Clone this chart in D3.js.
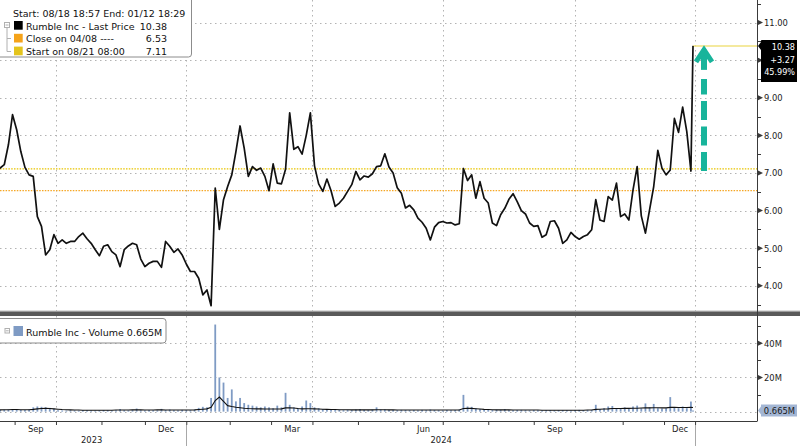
<!DOCTYPE html>
<html><head><meta charset="utf-8">
<script src="https://cdn.jsdelivr.net/npm/d3@7"></script>
<style>
body{margin:0;background:#fff;}
svg{display:block;font-family:"DejaVu Sans",sans-serif;}
</style></head><body>
<svg id="c" width="800" height="446"></svg>
<script>
// ---------- data ----------
const startDate = "2023-08-21";
const endDate = "2024-12-20";
const holidays = ["2023-09-04","2023-11-23","2023-12-25","2024-01-01","2024-01-15","2024-02-19",
  "2024-03-29","2024-05-27","2024-06-19","2024-07-04","2024-09-02","2024-11-28"];
// price sampled every second trading day from 2023-08-21, last value = 2024-12-20
const prices = [
 7.11,7.13,7.22,7.75,8.55,8.15,7.57,7.15,6.95,6.91,
 5.84,5.58,4.82,4.96,5.36,5.13,5.22,5.13,5.18,5.18,
 5.31,5.40,5.25,5.13,4.96,4.80,5.05,5.09,4.91,4.82,
 4.51,4.96,5.06,5.13,5.09,4.71,4.51,4.60,4.65,4.65,
 4.49,5.18,5.05,4.89,4.98,4.82,4.58,4.38,4.38,4.20,
 3.76,3.89,3.47,6.60,5.50,6.29,6.64,6.95,7.57,8.25,
 7.66,6.91,7.17,7.07,7.13,6.91,6.53,7.24,6.73,6.71,
 7.10,8.60,7.63,7.70,7.50,8.00,8.60,7.19,6.71,6.51,
 6.84,6.53,6.11,6.20,6.33,6.51,6.69,7.04,6.82,6.92,
 6.89,6.98,7.17,7.19,7.51,7.16,7.00,6.61,6.46,6.07,
 6.14,6.02,5.80,5.69,5.53,5.22,5.56,5.68,5.71,5.67,
 5.68,5.62,5.65,7.12,6.80,6.95,6.33,6.77,6.33,6.20,
 5.67,5.60,5.89,6.06,6.30,6.45,6.24,6.00,5.91,5.67,
 5.58,5.60,5.29,5.36,5.71,5.73,5.53,5.13,5.22,5.42,
 5.31,5.24,5.31,5.36,5.49,6.29,5.75,5.71,6.37,6.28,
 6.73,5.84,5.91,5.75,6.55,7.17,5.86,5.40,6.02,6.64,
 7.60,7.13,6.95,7.08,8.45,8.08,8.75,8.10,7.05,10.38];
// volume (millions) on the same dates
const volumes = [
 1.0,0.9,1.1,1.2,1.5,1.3,1.0,0.9,1.2,
 2.5,3.0,2.8,2.6,2.2,1.8,
 0.8,0.7,0.6,0.8,0.7,0.6,0.9,0.8,0.7,0.6,0.7,0.9,0.8,0.7,0.8,
 1.5,0.8,0.7,0.9,1.8,0.8,0.7,0.9,0.8,0.7,
 1.6,0.9,1.2,0.8,0.7,1.0,0.9,0.8,1.1,
 2.2,2.8,2.5,8,51,20,17,8,13,6,8,
 5,4,3.5,3,2.5,3,2.5,2,3.5,2.5,
 11,4,2.5,2,3,6.5,5,2.5,2,1.5,
 1.2,1.0,0.9,1.1,0.8,1.0,0.9,1.2,1.5,1.0,
 0.9,1.1,2.5,1.2,1.3,1.0,0.9,0.8,1.0,0.9,
 0.8,0.9,0.7,1.0,0.8,1.2,0.9,0.8,0.7,0.9,0.8,0.9,
 1.2,9.8,3,2.8,2,1.5,
 1.2,1.0,0.9,1.1,1.0,1.5,0.9,0.8,0.9,1.0,
 0.8,0.7,0.9,0.8,0.7,0.8,0.9,0.7,0.8,0.9,
 0.8,0.7,0.9,1.0,0.8,0.9,1.0,
 4,1.5,2,3,3.3,2,2,2.5,1.5,3,
 3.5,2,4.8,2.5,4.5,2,1.8,2,8.5,2.5,
 2,3,2,5.9,0.665];
const volumeAvg = [
 1.0,1.0,1.1,1.1,1.2,1.2,1.1,1.1,1.1,
 1.3,1.6,1.8,1.9,1.8,1.6,1.4,
 1.2,1.1,1.0,0.9,0.9,0.8,0.8,0.8,0.8,0.8,
 0.8,0.8,0.8,0.9,0.9,0.9,0.9,1.0,1.0,1.0,
 0.9,0.9,0.9,1.0,1.0,0.9,0.9,0.9,0.9,0.9,
 0.9,0.9,1.0,
 1.2,1.4,1.6,2.5,6.5,
 8.5,6.0,3.5,3.0,2.6,2.3,
 2.0,1.8,1.7,1.6,1.6,1.5,1.5,1.5,1.5,1.6,
 2.2,2.3,2.1,1.8,1.6,1.7,1.7,1.6,1.5,1.4,
 1.3,1.2,1.2,1.1,1.1,1.1,1.0,1.0,1.0,1.0,
 1.0,1.0,1.1,1.1,1.1,1.0,1.0,0.9,0.9,0.9,
 0.9,0.9,0.9,0.9,0.9,0.9,0.9,0.9,0.9,0.9,0.9,0.9,
 0.9,1.8,2.0,1.9,1.7,1.5,
 1.3,1.2,1.1,1.0,1.0,1.0,1.0,0.9,0.9,0.9,
 0.9,0.9,0.9,0.9,0.8,0.8,0.8,0.8,0.8,0.8,
 0.8,0.8,0.8,0.8,0.8,0.9,0.9,
 1.3,1.4,1.5,1.6,1.8,1.8,1.8,1.9,1.9,2.0,
 2.0,2.1,2.2,2.2,2.3,2.3,2.2,2.2,2.5,2.5,
 2.4,2.4,2.4,2.5,2.4];
const priceTicks = [4,5,6,7,8,9,10,11];
const priceTickLabels = [4,5,6,7,8,9,11];   // 10.00 is hidden behind the last-price tag
const priceMinor = [3.5,4.5,5.5,6.5,7.5,8.5,9.5,10.5,11.5];
const volTicks = [20,40];
const volMinor = [10,30,50];
const closeLevel = 6.53, startLevel = 7.11;
const lastPrice = 10.38, change = "+3.27", changePct = "45.99%", lastVolume = "0.665M";
const monthLabelStarts = ["2023-09-01","2023-12-01","2024-03-01","2024-06-01","2024-09-01","2024-12-01"];
const monthLabels = ["Sep","Dec","Mar","Jun","Sep","Dec"];
const quarterStarts = ["2023-10-01","2024-01-01","2024-04-01","2024-07-01","2024-10-01","2025-01-01"];
const yearStarts = ["2023-01-01","2024-01-01","2025-01-01"];
const yearLabels = ["2023","2024"];

// ---------- calendar ----------
const parse = d3.utcParse("%Y-%m-%d"), fmt = d3.utcFormat("%Y-%m-%d");
const hol = new Set(holidays);
const days = d3.utcDay.range(parse(startDate), d3.utcDay.offset(parse(endDate),1))
  .filter(d => d.getUTCDay()!==0 && d.getUTCDay()!==6 && !hol.has(fmt(d)));
const tIndex = s => d3.bisectLeft(days, parse(s));
const sampleIdx = d3.range(0, days.length, 2);
if (sampleIdx[sampleIdx.length-1] !== days.length-1) sampleIdx.push(days.length-1);
const n = Math.min(sampleIdx.length, prices.length);
const priceData = d3.range(n).map(i => ({i: sampleIdx[i], v: prices[i], vol: volumes[i], avg: volumeAvg[i]}));

// ---------- layout ----------
const axisX = 757, pTop = 0, pBot = 311, vTop = 316, vBot = 421;
const FONT = "DejaVu Sans", AXFONT = "DejaVu Sans Condensed, DejaVu Sans, sans-serif";
const x = d3.scaleLinear().domain([0, days.length-1]).range([-4, 693]);
const yP = d3.scaleLinear().domain([3.33, 11.6]).range([pBot, pTop]);
const yV = d3.scaleLinear().domain([-5.5, 56]).range([vBot, vTop]);

const svg = d3.select("#c");
const defs = svg.append("defs");
defs.append("clipPath").attr("id","cp").append("rect").attr("x",0).attr("y",pTop).attr("width",axisX).attr("height",pBot-pTop);
defs.append("clipPath").attr("id","cv").append("rect").attr("x",0).attr("y",vTop).attr("width",axisX).attr("height",vBot-vTop);

const gridStyle = s => s.attr("stroke","#b3b3b3").attr("stroke-width",1).attr("stroke-dasharray","1.5,3.5");

// price grid
svg.append("g").selectAll("line").data(priceTicks).join("line")
  .attr("x1",0).attr("x2",axisX).attr("y1",d=>Math.round(yP(d))+0.5).attr("y2",d=>Math.round(yP(d))+0.5).call(gridStyle);
// volume grid
svg.append("g").selectAll("line").data([0].concat(volTicks)).join("line")
  .attr("x1",0).attr("x2",axisX).attr("y1",d=>Math.round(yV(d))+0.5).attr("y2",d=>Math.round(yV(d))+0.5).call(gridStyle);
// vertical quarter grid
const qx = quarterStarts.map(s => Math.round(x(tIndex(s)))+0.5);
svg.append("g").selectAll("line").data(qx).join("line")
  .attr("x1",d=>d).attr("x2",d=>d).attr("y1",pTop).attr("y2",pBot).call(gridStyle);
svg.append("g").selectAll("line").data(qx).join("line")
  .attr("x1",d=>d).attr("x2",d=>d).attr("y1",vTop).attr("y2",vBot).call(gridStyle);

// level lines
svg.append("line").attr("x1",0).attr("x2",axisX).attr("y1",yP(closeLevel)).attr("y2",yP(closeLevel))
  .attr("stroke","#f5a623").attr("stroke-width",1.3).attr("stroke-dasharray","1.5,1.3");
svg.append("line").attr("x1",0).attr("x2",axisX).attr("y1",yP(startLevel)).attr("y2",yP(startLevel))
  .attr("stroke","#e8c400").attr("stroke-width",1.3).attr("stroke-dasharray","1.5,1.3");

// last price line
const last = priceData[priceData.length-1], prev = priceData[priceData.length-2];
svg.append("line").attr("x1",x(last.i)).attr("x2",axisX).attr("y1",yP(last.v)).attr("y2",yP(last.v))
  .attr("stroke","#f1e27e").attr("stroke-width",1.5);

// price line
svg.append("path").datum(priceData).attr("clip-path","url(#cp)")
  .attr("fill","none").attr("stroke","#111").attr("stroke-width",1.7).attr("stroke-linejoin","round")
  .attr("d", d3.line().x(d=>x(d.i)).y(d=>yP(d.v)));

// teal arrow
const ax = x(last.i) + 11, yTopA = yP(last.v), yBotA = yP(prev.v);
const teal = "#18b49b";
svg.append("line").attr("x1",ax).attr("x2",ax).attr("y1",yBotA).attr("y2",yTopA+33)
  .attr("stroke",teal).attr("stroke-width",6).attr("stroke-dasharray","19,6.5");
svg.append("line").attr("x1",ax).attr("x2",ax).attr("y1",yTopA+4).attr("y2",yTopA+24)
  .attr("stroke",teal).attr("stroke-width",6);
svg.append("path").attr("d",`M${ax-8},${yTopA+16}L${ax},${yTopA+4}L${ax+8},${yTopA+16}`)
  .attr("fill","none").attr("stroke",teal).attr("stroke-width",5).attr("stroke-linejoin","miter");

// volume bars
svg.append("g").attr("clip-path","url(#cv)").selectAll("rect").data(priceData).join("rect")
  .attr("x",d=>x(d.i)-0.9).attr("width",1.8)
  .attr("y",d=>yV(d.vol)).attr("height",d=>Math.max(0.5,yV(0)-yV(d.vol)))
  .attr("fill","#7f9bc4");
svg.append("path").datum(priceData).attr("clip-path","url(#cv)")
  .attr("fill","none").attr("stroke","#111").attr("stroke-width",1.1)
  .attr("d", d3.line().x(d=>x(d.i)).y(d=>yV(d.avg)));

// panel separator
svg.append("rect").attr("x",0).attr("y",310.5).attr("width",800).attr("height",1).attr("fill","#bdbdbd");
svg.append("rect").attr("x",0).attr("y",311.5).attr("width",800).attr("height",4.5).attr("fill","#5a5a5a");

// right axes
const axisColor = "#3a3a3a";
svg.append("line").attr("x1",axisX+0.5).attr("x2",axisX+0.5).attr("y1",0).attr("y2",vBot).attr("stroke",axisColor);
const pAxis = d3.axisRight(yP).tickValues(priceTickLabels).tickSize(0).tickPadding(7).tickFormat(d3.format(".2f"));
const gpa = svg.append("g").attr("transform",`translate(${axisX},0)`).call(pAxis);
gpa.select(".domain").remove();
gpa.selectAll("text").attr("font-size",9.3).attr("fill","#222").attr("font-family",AXFONT);
const vAxis = d3.axisRight(yV).tickValues(volTicks).tickSize(0).tickPadding(7).tickFormat(d=>d+"M");
const gva = svg.append("g").attr("transform",`translate(${axisX},0)`).call(vAxis);
gva.select(".domain").remove();
gva.selectAll("text").attr("font-size",9.3).attr("fill","#222").attr("font-family",AXFONT);
// tick markers
const tri = y => `M${axisX+1},${y-2.5}L${axisX+6},${y}L${axisX+1},${y+2.5}Z`;
svg.append("g").selectAll("path").data(priceTicks).join("path").attr("d",d=>tri(yP(d))).attr("fill",axisColor);
svg.append("g").selectAll("path").data(volTicks).join("path").attr("d",d=>tri(yV(d))).attr("fill",axisColor);
svg.append("g").selectAll("line").data(priceMinor).join("line")
  .attr("x1",axisX).attr("x2",axisX+4).attr("y1",d=>Math.round(yP(d))+0.5).attr("y2",d=>Math.round(yP(d))+0.5).attr("stroke",axisColor);
svg.append("g").selectAll("line").data(volMinor).join("line")
  .attr("x1",axisX).attr("x2",axisX+4).attr("y1",d=>Math.round(yV(d))+0.5).attr("y2",d=>Math.round(yV(d))+0.5).attr("stroke",axisColor);

// last price label box
const ly = yP(last.v);
svg.append("path").attr("d",`M${axisX+1},${ly}L${axisX+4},${ly-4}L${axisX+4},${ly-5.5}Q${axisX+4},${ly-6} ${axisX+5},${ly-6}L797,${ly-6}L797,${ly+36}L${axisX+4},${ly+36}L${axisX+4},${ly+4}Z`)
  .attr("fill","#000");
svg.append("g").selectAll("text").data([lastPrice.toFixed(2), change, changePct]).join("text")
  .attr("x",795).attr("y",(d,i)=>ly+4+i*12.8).attr("text-anchor","end").attr("font-family",AXFONT)
  .attr("font-size",9).attr("fill","#fff").text(d=>d);
// last volume label
const vly = yV(+lastVolume.replace("M",""));
svg.append("path").attr("d",`M${axisX+1},${vly}L${axisX+4},${vly-4}L${axisX+4},${vly-6}L797,${vly-6}L797,${vly+6}L${axisX+4},${vly+6}L${axisX+4},${vly+4}Z`)
  .attr("fill","#a3b6d4");
svg.append("text").attr("x",795).attr("y",vly+3.5).attr("text-anchor","end").attr("font-family",AXFONT)
  .attr("font-size",9.3).attr("fill","#1a1a1a").text(lastVolume);

// bottom axis
svg.append("line").attr("x1",0).attr("x2",axisX+0.5).attr("y1",vBot+0.5).attr("y2",vBot+0.5).attr("stroke",axisColor);
const monthStarts = d3.utcMonth.range(parse("2023-09-01"), parse("2025-01-02")).map(fmt);
const mAxis = d3.axisBottom(x).tickValues(monthStarts.map(tIndex)).tickSize(4).tickFormat("");
const gma = svg.append("g").attr("transform",`translate(0,${vBot})`).call(mAxis);
gma.select(".domain").remove();
gma.selectAll("line").attr("stroke",axisColor);
const nextMonth = s => fmt(d3.utcMonth.offset(parse(s),1));
const labelAxis = d3.axisBottom(x)
  .tickValues(monthLabelStarts.map(s => (tIndex(s)+tIndex(nextMonth(s)))/2))
  .tickSize(0).tickPadding(4).tickFormat((d,i)=>monthLabels[i]);
const gla = svg.append("g").attr("transform",`translate(0,${vBot})`).call(labelAxis);
gla.select(".domain").remove();
gla.selectAll("text").attr("font-size",9.3).attr("fill","#222").attr("font-family",AXFONT);
// year separators and labels
svg.append("g").selectAll("line").data(yearStarts.slice(1)).join("line")
  .attr("x1",d=>Math.round(x(tIndex(d)))+0.5).attr("x2",d=>Math.round(x(tIndex(d)))+0.5)
  .attr("y1",vBot+4).attr("y2",446).attr("stroke","#a8a8a8");
const yearAxis = d3.axisBottom(x)
  .tickValues(yearLabels.map((s,i)=>(tIndex(yearStarts[i])+tIndex(yearStarts[i+1]))/2))
  .tickSize(0).tickPadding(15).tickFormat((d,i)=>yearLabels[i]);
const gya = svg.append("g").attr("transform",`translate(0,${vBot})`).call(yearAxis);
gya.select(".domain").remove();
gya.selectAll("text").attr("font-size",9.3).attr("fill","#222").attr("font-family",AXFONT);

// ---------- legends ----------
const lg = svg.append("g").attr("font-family",FONT);
lg.append("rect").attr("x",-4).attr("y",-4).attr("width",195.5).attr("height",61).attr("rx",3)
  .attr("fill","#fff").attr("stroke","#8c8c8c");
lg.append("text").attr("x",13).attr("y",17).attr("font-size",9.5).attr("fill","#111")
  .text("Start: 08/18 18:57 End: 01/12 18:29");
// tree icon
lg.append("rect").attr("x",4.5).attr("y",22.5).attr("width",5).attr("height",5).attr("fill","#fff").attr("stroke","#b0b0b0");
lg.append("line").attr("x1",5.5).attr("x2",8.5).attr("y1",25).attr("y2",25).attr("stroke","#b0b0b0");
lg.append("path").attr("d","M7,27.5V51.5M7,38.5H11M7,51.5H11").attr("fill","none").attr("stroke","#b0b0b0");
const legendRows = [
  {c:"#000000", t:"Rumble Inc - Last Price", v:lastPrice.toFixed(2)},
  {c:"#f5a31a", t:"Close on 04/08 ----", v:closeLevel.toFixed(2)},
  {c:"#e4c41c", t:"Start on 08/21 08:00", v:startLevel.toFixed(2)}];
legendRows.forEach((r,i)=>{
  const yy = 29.5 + i*12.8;
  lg.append("rect").attr("x",14).attr("y",yy-8.5).attr("width",8.7).attr("height",8.7).attr("fill",r.c);
  lg.append("text").attr("x",26).attr("y",yy).attr("font-size",9.5).attr("fill","#111").text(r.t);
  lg.append("text").attr("x",167).attr("y",yy).attr("font-size",9.5).attr("fill","#111").attr("text-anchor","end").text(r.v);
});
const vg = svg.append("g").attr("font-family",FONT);
vg.append("rect").attr("x",-4).attr("y",318.5).attr("width",170).attr("height",24.5).attr("rx",3)
  .attr("fill","#fff").attr("stroke","#8c8c8c");
vg.append("rect").attr("x",5).attr("y",328.5).attr("width",4.5).attr("height",4.5).attr("fill","#fff").attr("stroke","#b0b0b0");
vg.append("line").attr("x1",5.8).attr("x2",8.7).attr("y1",330.8).attr("y2",330.8).attr("stroke","#b0b0b0");
vg.append("rect").attr("x",13.5).attr("y",326).attr("width",9.5).attr("height",10).attr("fill","#7f9bc4");
vg.append("text").attr("x",26).attr("y",335.5).attr("font-size",9.5).attr("fill","#111").text("Rumble Inc - Volume " + lastVolume);
</script>
</body></html>
